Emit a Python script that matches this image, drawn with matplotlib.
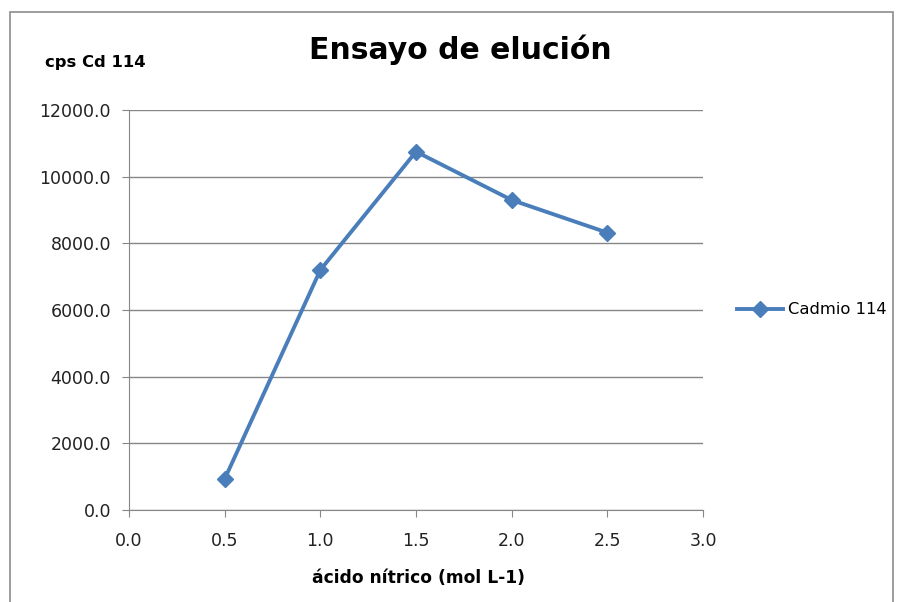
import matplotlib.pyplot as plt
from matplotlib.patches import Rectangle

plt.rcParams['font.family'] = ['DejaVu Sans']

acid = [0.5, 1.0, 1.5, 2.0, 2.5]
cps = [930, 7200, 10750, 9300, 8320]
series_name = 'Cadmio 114'
xticks = [0.0, 0.5, 1.0, 1.5, 2.0, 2.5, 3.0]
yticks = [0, 2000, 4000, 6000, 8000, 10000, 12000]

blue = '#4a7ebb'
grey = '#868686'

fig = plt.figure(figsize=(9.01, 6.02), dpi=100)
ax = fig.add_axes([129 / 901, 1 - 510 / 602, (703 - 129) / 901, 400 / 602])

ax.plot(acid, cps, '-', color=blue, lw=2.8, marker='D', markersize=8,
        label=series_name)
ax.set_xlim(0, 3)
ax.set_ylim(0, 12000)
ax.set_xticks(xticks)
ax.set_yticks(yticks)
ax.set_xticklabels([f'{v:.1f}' for v in xticks])
ax.set_yticklabels([f'{v:.1f}' for v in yticks])
ax.yaxis.grid(True, color=grey, lw=1)
ax.set_axisbelow(True)
for s in ['top', 'right']:
    ax.spines[s].set_visible(False)
for s in ['left', 'bottom']:
    ax.spines[s].set_color(grey)
ax.tick_params(axis='both', colors=grey, labelcolor='#222222', labelsize=12.5,
               length=5, direction='out')
ax.tick_params(axis='x', pad=11)
ax.tick_params(axis='y', pad=8)

fig.text(460 / 901, 1 - 50 / 602, 'Ensayo de elución', ha='center', va='center',
         fontsize=21.5, fontweight='bold')
fig.text(45 / 901, 1 - 62 / 602, 'cps Cd 114', ha='left', va='center',
         fontsize=11.8, fontweight='bold')
fig.text(418 / 901, 1 - 578 / 602, 'ácido nítrico (mol L-1)', ha='center',
         va='center', fontsize=12.3, fontweight='bold')

leg = fig.legend(loc='center left', bbox_to_anchor=(722 / 901, 1 - 310 / 602),
                 frameon=False, fontsize=11.8, handlelength=2.8, handletextpad=0.3)

fig.patches.append(Rectangle((10 / 901, -0.01), (893 - 10) / 901, 1 - 12 / 602 + 0.01,
                             transform=fig.transFigure, fill=False,
                             edgecolor='#8c8c8c', lw=1.2))

fig.savefig('out.png', dpi=100)
